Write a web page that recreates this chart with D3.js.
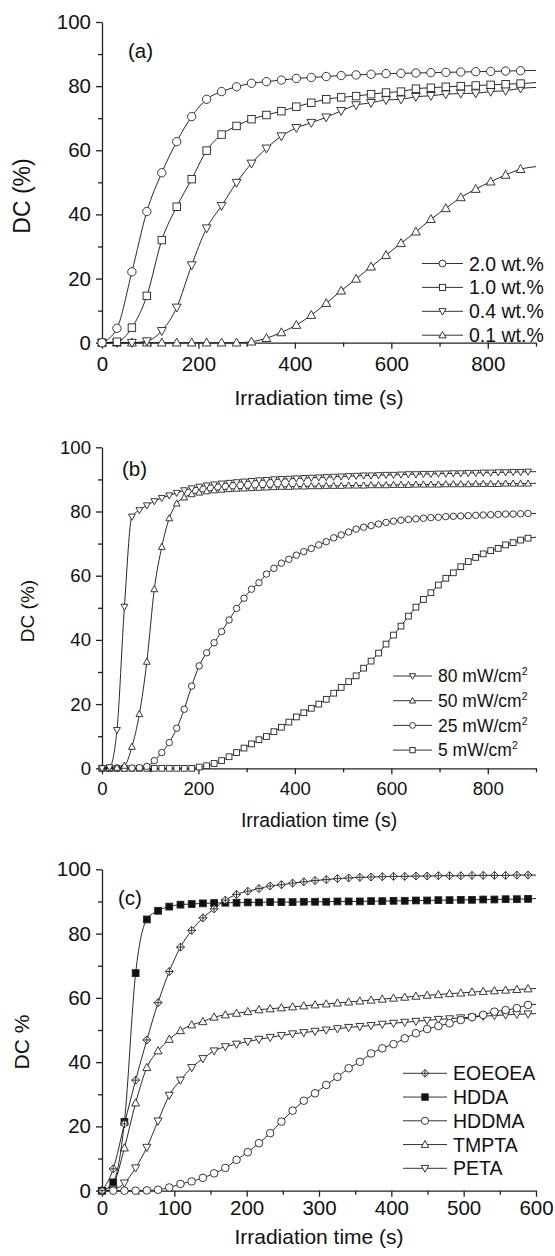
<!DOCTYPE html>
<html lang="en">
<head>
<meta charset="UTF-8">
<title>DC vs irradiation time</title>
<style>
  body { margin: 0; background: #fff; }
  svg { display: block; }
  text { font-family: "Liberation Sans", Arial, Helvetica, sans-serif; fill: #111; }
</style>
</head>
<body>
<svg class="chart"></svg>
<script src="https://cdnjs.cloudflare.com/ajax/libs/d3/7.8.5/d3.min.js"></script>
<script>
// ---------- data ----------
// (a) photoinitiator concentration
const timeA = [0,31,62,93,124,155,186,217,248,279,
               310,341,372,403,434,465,496,527,558,589,
               620,651,682,713,744,775,806,837,868,900];
const dc20wt = [0,4.5,22.1,40.9,53,62.7,70.5,75.9,78.3,79.8,
                80.9,81.4,81.9,82.4,82.7,83.0,83.3,83.5,83.7,83.9,
                84.0,84.1,84.2,84.3,84.4,84.5,84.6,84.7,84.8,84.9];
const dc10wt = [0,0.3,4.7,14.6,32,42.4,51,59.9,64.9,67.6,
                69.7,71,72.2,73.6,74.8,75.9,76.5,76.9,77.5,78,
                78.3,79.2,79.5,79.8,80,80.2,80.4,80.6,80.8,81.1];
const dc04wt = [0,0,0,0.5,3.7,11,24.2,35.7,42.7,49.9,
                55.9,60.6,64.4,67,68.6,70.3,72.3,74.1,74.8,75.7,
                75.9,76.7,77,77.5,77.7,77.8,78.3,78.6,79.3,79.6];
const dc01wt = [0,0,0,0,0,0,0,0,0,0,
                0.3,1.4,3.2,5.5,8.6,12.3,16.2,19.9,23.7,27.3,
                31,34.6,38.5,41.9,45.3,47.9,50.2,52.3,54.1,54.9];
const namesA = ["2.0 wt.%", "1.0 wt.%", "0.4 wt.%", "0.1 wt.%"];

// (b) light intensity
const timeB = [0,15.5,31,46.5,62,77.5,93,108.5,124,139.5,
               155,170.5,186,201.5,217,232.5,248,263.5,279,294.5,
               310,325.5,341,356.5,372,387.5,403,418.5,434,449.5,
               465,480.5,496,511.5,527,542.5,558,573.5,589,604.5,
               620,635.5,651,666.5,682,697.5,713,728.5,744,759.5,
               775,790.5,806,821.5,837,852.5,868,883.5,900];
const dc80mw = [0,0.3,11.9,50.3,78.4,80.4,81.9,83.2,84.2,85.0,
                85.8,86.6,87.2,87.7,88.1,88.4,88.7,88.9,89.1,89.3,
                89.5,89.7,89.8,90.0,90.1,90.2,90.3,90.4,90.5,90.6,
                90.7,90.8,90.9,91.0,91.1,91.2,91.2,91.3,91.4,91.4,
                91.5,91.6,91.6,91.7,91.7,91.8,91.8,91.9,91.9,92.0,
                92.0,92.1,92.1,92.2,92.2,92.3,92.3,92.4,92.4];
const dc50mw = [0,0,0.2,0.8,6.7,16.9,33.2,55.8,69.0,77.9,
                82.5,84.4,85.4,85.9,86.3,86.6,86.8,87.0,87.1,87.2,
                87.3,87.4,87.5,87.6,87.7,87.7,87.8,87.8,87.9,87.9,
                88.0,88.0,88.0,88.1,88.1,88.1,88.2,88.2,88.2,88.3,
                88.3,88.3,88.4,88.4,88.4,88.4,88.5,88.5,88.5,88.5,
                88.6,88.6,88.6,88.6,88.7,88.7,88.7,88.7,88.8];
const dc25mw = [0,0,0,0,0.1,0.2,0.6,2.4,4.9,8.0,
                12.5,18.4,25.6,31.9,36.0,39.1,42.6,46.2,49.8,53.0,
                55.8,57.8,60.5,62.3,63.9,65.1,66.4,67.5,68.5,69.6,
                70.6,71.8,72.7,73.6,74.5,75.1,75.6,76.1,76.6,77.0,
                77.3,77.5,77.7,77.9,78.1,78.2,78.4,78.5,78.6,78.7,
                78.8,78.9,79.0,79.1,79.2,79.2,79.3,79.4,79.4];
const dc5mw  = [0,0,0,0,0,0,0,0,0,0,
                0,0,0,0.4,0.8,1.5,2.4,3.6,4.9,6.3,
                7.6,8.9,9.9,11.4,12.8,14.4,16.0,17.3,18.7,20.0,
                21.5,23.4,25.2,27.0,28.8,31.2,33.4,35.9,38.7,41.5,
                44.3,47.4,50.2,52.6,54.7,57.1,59.2,60.9,62.8,64.4,
                65.7,66.8,67.8,68.5,69.6,70.3,71.1,71.7,72.0];
const namesB = ["80 mW/cm", "50 mW/cm", "25 mW/cm", "5 mW/cm"];

// (c) monomers
const timeC = [0,15.5,31,46.5,62,77.5,93,108.5,124,139.5,
               155,170.5,186,201.5,217,232.5,248,263.5,279,294.5,
               310,325.5,341,356.5,372,387.5,403,418.5,434,449.5,
               465,480.5,496,511.5,527,542.5,558,573.5,589,600];
const dcEOEOEA = [0,6.8,20.8,34.4,46.9,58.5,68.2,75.8,81,84.9,
                  87.7,90.4,92.2,93.2,94,94.8,95.2,95.7,96.1,96.5,
                  96.8,97.1,97.3,97.5,97.6,97.7,97.8,97.8,97.9,97.9,
                  98.0,98.0,98.0,98.1,98.1,98.1,98.1,98.2,98.2,98.2];
const dcHDDA = [0,2.6,21.4,67.7,84.4,87.1,88.4,89.0,89.2,89.4,
                89.5,89.6,89.6,89.7,89.7,89.8,89.8,89.8,89.9,89.9,
                89.9,90.0,90.0,90.0,90.1,90.1,90.2,90.2,90.3,90.3,
                90.4,90.4,90.5,90.5,90.6,90.6,90.7,90.7,90.8,90.9];
const dcHDDMA = [0,0,0,0,0.1,0.3,1.0,2.1,2.9,4.0,
                 5.4,7.1,9.6,12.0,14.8,17.9,21.5,24.9,28,30.3,
                 32.9,35.4,38.1,40.1,42.7,44.3,45.6,47.4,49,50.3,
                 51.2,52.1,53.1,54,54.7,55.7,56.2,56.8,57.8,58.0];
const dcTMPTA = [0,2.1,13.3,27.3,38.3,43.5,47.1,49.8,51.6,52.6,
                 54,54.7,55.2,55.7,56.3,56.6,56.9,57.2,57.5,57.8,
                 58.1,58.4,58.7,59.0,59.3,59.6,59.9,60.2,60.5,60.8,
                 61.0,61.3,61.5,61.8,62.0,62.2,62.4,62.6,62.8,62.9];
const dcPETA = [0,0.3,2.4,7.1,13.5,21.7,29.7,34.4,38.3,41.1,
                43.5,44.8,45.6,46.4,47.1,47.7,48.3,48.8,49.2,49.6,
                50.0,50.4,50.8,51.1,51.4,51.8,52.1,52.4,52.7,53.0,
                53.3,53.5,53.8,54.0,54.3,54.5,54.7,54.9,55.0,55.1];
const namesC = ["EOEOEA", "HDDA", "HDDMA", "TMPTA", "PETA"];

// ticks
const yTicks = [0, 20, 40, 60, 80, 100];
const yMinor = [10, 30, 50, 70, 90];
const xTicks900 = [0, 200, 400, 600, 800];
const xMinor900 = [100, 300, 500, 700, 900];
const xTicks600 = [0, 100, 200, 300, 400, 500, 600];
const xMinor600 = [50, 150, 250, 350, 450, 550];

// ---------- drawing ----------
const W = 555, H = 1256;
const svg = d3.select('.chart').attr('width', W).attr('height', H);

// marker shapes
function drawSymbol(g, type, s) {
    if (type === 'circle') {
        g.append('circle').attr('r', s * 0.95).attr('fill', '#fff').attr('stroke', '#222');
    } else if (type === 'square' || type === 'squareFilled') {
        g.append('rect').attr('x', -s * 0.85).attr('y', -s * 0.85)
            .attr('width', s * 1.7).attr('height', s * 1.7)
            .attr('fill', type === 'square' ? '#fff' : '#111').attr('stroke', '#222');
    } else if (type === 'triUp') {
        g.append('path').attr('d', `M0,${-s * 1.05}L${s},${s * 0.75}L${-s},${s * 0.75}Z`)
            .attr('fill', '#fff').attr('stroke', '#222');
    } else if (type === 'triDown') {
        g.append('path').attr('d', `M0,${s * 1.05}L${s},${-s * 0.75}L${-s},${-s * 0.75}Z`)
            .attr('fill', '#fff').attr('stroke', '#222');
    } else if (type === 'diamondPlus') {
        g.append('path').attr('d', `M0,${-s}L${s},0L0,${s}L${-s},0Z M0,${-s}V${s} M${-s},0H${s}`)
            .attr('fill', '#fff').attr('stroke', '#222');
    }
}

function drawPanel(p) {
    const x = d3.scaleLinear().domain([0, p.xMax]).range([102, 536]);
    const y = d3.scaleLinear().domain([0, 100]).range([p.y0, p.y100]);
    const g = svg.append('g');

    // axes
    const xAx = g.append('g').attr('transform', `translate(0,${p.y0})`)
        .call(d3.axisBottom(x).tickValues(p.xTicks).tickSize(6).tickSizeOuter(0)
            .tickPadding(p.xLabelBase - 6 - 0.71 * p.tickFont));
    const xMin = g.append('g').attr('transform', `translate(0,${p.y0})`)
        .call(d3.axisBottom(x).tickValues(p.xMinor).tickSize(4).tickFormat(''));
    const yAx = g.append('g').attr('transform', 'translate(102,0)')
        .call(d3.axisLeft(y).tickValues(yTicks).tickSize(6).tickSizeOuter(0).tickPadding(5));
    const yMin = g.append('g').attr('transform', 'translate(102,0)')
        .call(d3.axisLeft(y).tickValues(yMinor).tickSize(4).tickFormat(''));
    xMin.select('.domain').remove();
    yMin.select('.domain').remove();
    [xAx, xMin, yAx, yMin].forEach(a => {
        a.selectAll('path, line').attr('stroke', '#222').attr('stroke-width', 1.3);
        a.selectAll('text').attr('font-size', p.tickFont)
            .style('font-family', '"Liberation Sans", Arial, sans-serif').attr('fill', '#111');
    });

    // titles
    g.append('text').attr('x', 319).attr('y', p.y0 + p.xTitleBase)
        .attr('text-anchor', 'middle').attr('font-size', p.xTitleFont).text('Irradiation time (s)');
    g.append('text').attr('transform', `translate(${p.yTitleX},${p.yTitleY}) rotate(-90)`)
        .attr('text-anchor', 'middle').attr('dy', '0.35em')
        .attr('font-size', p.yTitleFont).text(p.yTitle);
    g.append('text').attr('x', p.tagX).attr('y', p.tagY)
        .attr('font-size', 20.5).text(p.tag);

    const line = d3.line().x(d => x(d.t)).y(d => y(d.v)).curve(d3.curveMonotoneX);

    // series: lines then markers
    p.series.slice().reverse().forEach(s => {
        const pts = p.time.map((t, i) => ({t: t, v: s.values[i]}))
            .filter(d => d.v !== undefined);
        g.append('path').datum(pts).attr('d', line)
            .attr('fill', 'none').attr('stroke', '#111').attr('stroke-width', 0.9);
        pts.filter(d => d.t < p.xMax).forEach(d => {
            const m = g.append('g').attr('transform', `translate(${x(d.t)},${y(d.v)})`)
                .attr('stroke-width', 0.9);
            drawSymbol(m, s.symbol, p.markSize);
        });
    });

    // legend
    p.series.forEach((s, i) => {
        const ly = p.legY + i * p.legStep;
        g.append('line').attr('x1', p.legX1).attr('x2', p.legX2).attr('y1', ly).attr('y2', ly)
            .attr('stroke', '#333').attr('stroke-width', 1);
        const m = g.append('g').attr('transform', `translate(${(p.legX1 + p.legX2) / 2},${ly})`)
            .attr('stroke-width', 0.9);
        drawSymbol(m, s.symbol, p.legMark);
        const t = g.append('text').attr('x', p.legX2 + 6).attr('y', ly + p.legFont * 0.36)
            .attr('font-size', p.legFont).text(s.name);
        if (p.superTwo) {
            t.append('tspan').attr('dy', -p.legFont * 0.4).attr('font-size', p.legFont * 0.6).text('2');
        }
    });
}

drawPanel({
    xMax: 900, y0: 342.7, y100: 22, xTicks: xTicks900, xMinor: xMinor900,
    tickFont: 20.5, xLabelBase: 28, xTitleBase: 62, xTitleFont: 21,
    yTitle: 'DC (%)', yTitleX: 22, yTitleY: 196, yTitleFont: 23,
    tag: '(a)', tagX: 128, tagY: 58,
    time: timeA, markSize: 4.4,
    series: [
        {name: namesA[0], values: dc20wt, symbol: 'circle'},
        {name: namesA[1], values: dc10wt, symbol: 'square'},
        {name: namesA[2], values: dc04wt, symbol: 'triDown'},
        {name: namesA[3], values: dc01wt, symbol: 'triUp'}
    ],
    legX1: 422, legX2: 463, legY: 263.5, legStep: 23.9, legMark: 3.6, legFont: 19.5, superTwo: false
});

drawPanel({
    xMax: 900, y0: 768.3, y100: 447.3, xTicks: xTicks900, xMinor: xMinor900,
    tickFont: 18.6, xLabelBase: 26.7, xTitleBase: 58.4, xTitleFont: 19.4,
    yTitle: 'DC (%)', yTitleX: 27, yTitleY: 611, yTitleFont: 19,
    tag: '(b)', tagX: 122, tagY: 476,
    time: timeB, markSize: 3.4,
    series: [
        {name: namesB[0], values: dc80mw, symbol: 'triDown'},
        {name: namesB[1], values: dc50mw, symbol: 'triUp'},
        {name: namesB[2], values: dc25mw, symbol: 'circle'},
        {name: namesB[3], values: dc5mw, symbol: 'square'}
    ],
    legX1: 393, legX2: 432, legY: 676, legStep: 24.7, legMark: 3.1, legFont: 17.5, superTwo: true
});

drawPanel({
    xMax: 600, y0: 1190.7, y100: 869.3, xTicks: xTicks600, xMinor: xMinor600,
    tickFont: 20.5, xLabelBase: 24.5, xTitleBase: 53, xTitleFont: 21,
    yTitle: 'DC %', yTitleX: 22, yTitleY: 1042, yTitleFont: 21,
    tag: '(c)', tagX: 118, tagY: 904.5,
    time: timeC, markSize: 4.0,
    series: [
        {name: namesC[0], values: dcEOEOEA, symbol: 'diamondPlus'},
        {name: namesC[1], values: dcHDDA, symbol: 'squareFilled'},
        {name: namesC[2], values: dcHDDMA, symbol: 'circle'},
        {name: namesC[3], values: dcTMPTA, symbol: 'triUp'},
        {name: namesC[4], values: dcPETA, symbol: 'triDown'}
    ],
    legX1: 403, legX2: 447, legY: 1073.3, legStep: 23.75, legMark: 3.8, legFont: 19.5, superTwo: false
});
</script>
</body>
</html>
